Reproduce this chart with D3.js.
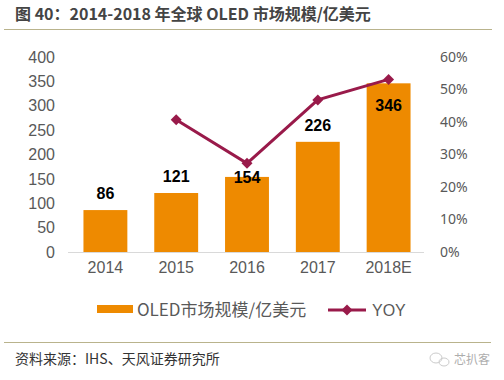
<!DOCTYPE html>
<html>
<head>
<meta charset="utf-8">
<script src="https://cdn.jsdelivr.net/npm/d3@7/dist/d3.min.js"></script>
<style>
  html, body { margin: 0; padding: 0; background: #fff; }
  svg { display: block; }
</style>
</head>
<body>
<svg id="chart" width="504" height="380"></svg>
<script>
const categories = ["2014", "2015", "2016", "2017", "2018E"];
const marketSize = [86, 121, 154, 226, 346];
const yoy = [null, 40.7, 27.3, 46.8, 53.1];
const leftTicks = [0, 50, 100, 150, 200, 250, 300, 350, 400];
const rightTicks = [0, 10, 20, 30, 40, 50, 60];
const titleText = "图 40：2014-2018 年全球 OLED 市场规模/亿美元";
const sourceText = "资料来源：IHS、天风证券研究所";
const legendBar = "OLED市场规模/亿美元";
const legendLine = "YOY";
const watermark = "芯扒客";

// label offsets relative to bar top (style, not data)
const labelDy = [-11, -11, 6, -11, 28];

const svg = d3.select("#chart");
const W = 504, H = 380;
const orange = "#EE8A00", maroon = "#991A4A";
const cjk = "'Noto Sans CJK SC', 'Noto Sans', sans-serif";
const latin = "'Liberation Sans', Arial, sans-serif";

svg.append("rect").attr("width", W).attr("height", H).attr("fill", "#fff");

// title
svg.append("text").attr("x", 15).attr("y", 20)
  .attr("font-family", cjk).attr("font-weight", "bold").attr("font-size", 16)
  .attr("fill", "#444").text(titleText);
svg.append("line").attr("x1", 4).attr("x2", 492).attr("y1", 29.5).attr("y2", 29.5)
  .attr("stroke", "#b9b38c").attr("stroke-width", 1);

const x = d3.scaleBand().domain(categories).range([70, 424]).paddingInner(0.38).paddingOuter(0.19);
const yL = d3.scaleLinear().domain([0, 400]).range([252, 57]);
const yR = d3.scaleLinear().domain([0, 60]).range([252, 57]);

// left axis
const axL = svg.append("g").attr("transform", "translate(55,0)")
  .call(d3.axisLeft(yL).tickValues(leftTicks).tickSize(0).tickPadding(0));
axL.select(".domain").remove();
axL.selectAll("text").attr("font-family", latin).attr("font-size", 16).attr("fill", "#595959");

// right axis
const axR = svg.append("g").attr("transform", "translate(440,0)")
  .call(d3.axisRight(yR).tickValues(rightTicks).tickSize(0).tickPadding(0).tickFormat(d => d + "%"));
axR.select(".domain").remove();
axR.selectAll("text").attr("font-family", "'Noto Sans', sans-serif").attr("font-size", 14).attr("fill", "#595959");

// bars
svg.append("g").selectAll("rect").data(marketSize).join("rect")
  .attr("x", (d, i) => x(categories[i]))
  .attr("width", x.bandwidth())
  .attr("y", d => yL(d))
  .attr("height", d => yL(0) - yL(d))
  .attr("fill", orange);

// baseline
svg.append("line").attr("x1", 68).attr("x2", 424).attr("y1", 252.5).attr("y2", 252.5)
  .attr("stroke", "#d9d9d9").attr("stroke-width", 1);

// x axis
const axX = svg.append("g").attr("transform", "translate(0,252)")
  .call(d3.axisBottom(x).tickSize(0).tickPadding(10));
axX.select(".domain").remove();
axX.selectAll("text").attr("font-family", latin).attr("font-size", 16).attr("fill", "#595959");

// line
const pts = yoy.map((v, i) => ({ c: categories[i], v })).filter(d => d.v !== null);
const line = d3.line().x(d => x(d.c) + x.bandwidth() / 2).y(d => yR(d.v));
svg.append("path").datum(pts).attr("d", line)
  .attr("fill", "none").attr("stroke", maroon).attr("stroke-width", 3);
svg.append("g").selectAll("path").data(pts).join("path")
  .attr("d", d3.symbol().type(d3.symbolSquare).size(60))
  .attr("transform", d => `translate(${x(d.c) + x.bandwidth() / 2},${yR(d.v)}) rotate(45)`)
  .attr("fill", maroon);

// bar labels
svg.append("g").selectAll("text").data(marketSize).join("text")
  .attr("x", (d, i) => x(categories[i]) + x.bandwidth() / 2)
  .attr("y", (d, i) => yL(d) + labelDy[i])
  .attr("text-anchor", "middle")
  .attr("font-family", latin).attr("font-weight", "bold").attr("font-size", 16)
  .attr("fill", "#000").text(d => d);

// legend
const lg = svg.append("g");
lg.append("rect").attr("x", 97).attr("y", 305).attr("width", 36).attr("height", 8).attr("fill", orange);
lg.append("text").attr("x", 137).attr("y", 316)
  .attr("font-family", cjk).attr("font-size", 17).attr("fill", "#595959").text(legendBar);
lg.append("line").attr("x1", 328).attr("x2", 366).attr("y1", 310).attr("y2", 310)
  .attr("stroke", maroon).attr("stroke-width", 3);
lg.append("path").attr("d", d3.symbol().type(d3.symbolSquare).size(60)())
  .attr("transform", "translate(347,310) rotate(45)").attr("fill", maroon);
lg.append("text").attr("x", 372).attr("y", 316)
  .attr("font-family", latin).attr("font-size", 16).attr("fill", "#595959").text(legendLine);

// footer
svg.append("line").attr("x1", 4).attr("x2", 491).attr("y1", 342.5).attr("y2", 342.5)
  .attr("stroke", "#b9b38c").attr("stroke-width", 1);
svg.append("text").attr("x", 15).attr("y", 364)
  .attr("font-family", cjk).attr("font-size", 14).attr("fill", "#333").text(sourceText);
// watermark
const wm = svg.append("g").attr("opacity", 0.6);
wm.append("ellipse").attr("cx", 436).attr("cy", 358).attr("rx", 6).attr("ry", 5)
  .attr("fill", "none").attr("stroke", "#aaa").attr("stroke-width", 1);
wm.append("ellipse").attr("cx", 444).attr("cy", 362).attr("rx", 5).attr("ry", 4)
  .attr("fill", "none").attr("stroke", "#aaa").attr("stroke-width", 1);
wm.append("text").attr("x", 454).attr("y", 364)
  .attr("font-family", cjk).attr("font-size", 12).attr("fill", "#777").text(watermark);
</script>
</body>
</html>
